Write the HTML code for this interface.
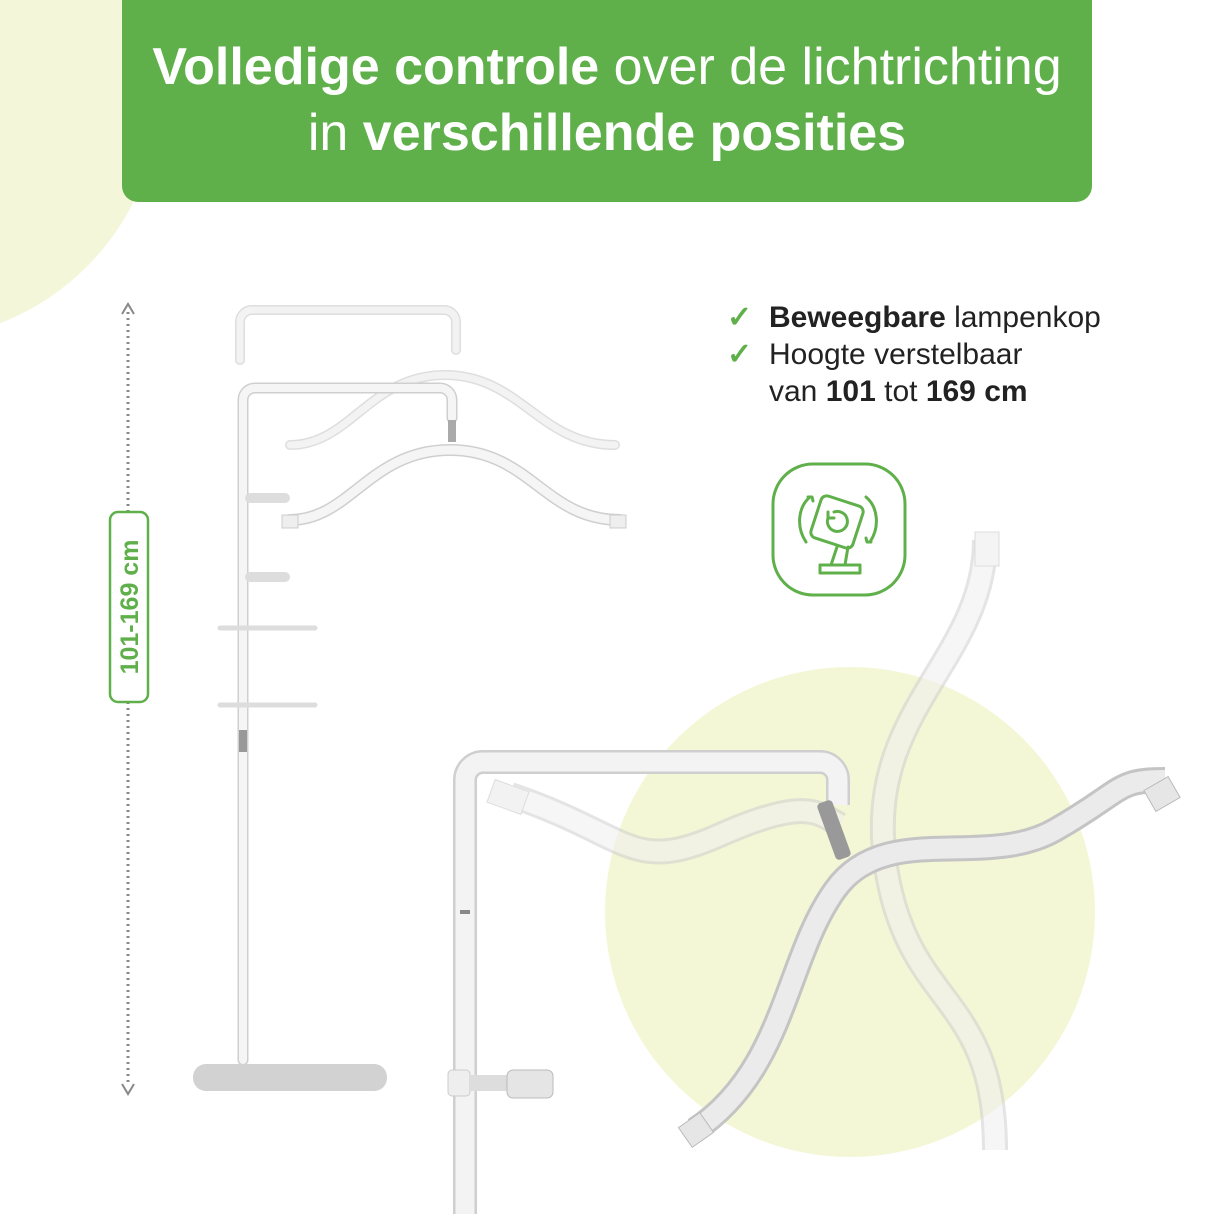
<!DOCTYPE html>
<html><head><meta charset="utf-8"><style>
html,body{margin:0;padding:0;background:#fff}
body{width:1214px;height:1214px;position:relative;overflow:hidden;font-family:"Liberation Sans",sans-serif}
svg{position:absolute;left:0;top:0}
.t{position:absolute;color:#fff;font-size:52px;left:122px;width:970px;text-align:center;white-space:nowrap}
.b{position:absolute;left:727px;font-size:30px;color:#222;line-height:37px}
.chk{color:#5fb04a;font-weight:bold;display:inline-block;width:42px}
</style></head><body>
<svg width="1214" height="1214" viewBox="0 0 1214 1214">
<circle cx="-90" cy="90" r="250" fill="#f4f6da"/>
<circle cx="850" cy="912" r="245" fill="#f4f7d6"/>
<path d="M122 0H1092V186a16 16 0 0 1-16 16H138a16 16 0 0 1-16-16Z" fill="#5fb04a"/>
<line x1="128" y1="312" x2="128" y2="1086" stroke="#888" stroke-width="3" stroke-dasharray="2 4"/>
<path d="M122 314l6-10 6 10M122 1084l6 10 6-10" fill="none" stroke="#888" stroke-width="2"/>
<rect x="110" y="512" width="38" height="190" rx="8" fill="#fff" stroke="#5fb04a" stroke-width="2.5"/>
<text transform="translate(138 607) rotate(-90)" text-anchor="middle" font-family="Liberation Sans" font-size="25" font-weight="bold" fill="#5fb04a">101-169 cm</text>
<rect x="773" y="464" width="132" height="131" rx="40" fill="none" stroke="#5fb04a" stroke-width="3"/>
<g fill="none" stroke="#5fb04a" stroke-width="3" stroke-linecap="round" stroke-linejoin="round">
<rect x="815" y="500" width="44" height="44" rx="6" transform="rotate(18 837 522)"/>
<path d="M834 512a10 10 0 1 1-6 6m0-6v6h6"/>
<path d="M810 497c-12 10-14 30-4 45M808 497l4 0 1 4"/>
<path d="M866 497c12 10 14 30 4 45M871 542l-4 0-1-4"/>
<path d="M837 547l-6 18M848 547l-3 18M820 565h40v8h-40z"/>
</g>
<g fill="none" stroke-linecap="round" stroke-linejoin="round">
<g stroke="#d6d6d6" stroke-width="10" opacity=".8">
<path d="M240 360V322a12 12 0 0 1 12-12H444a12 12 0 0 1 12 12V350"/>
<path d="M290 445c60 0 80-70 155-70s95 70 170 70"/>
</g>
<g stroke="#f7f7f7" stroke-width="7" opacity=".8">
<path d="M240 360V322a12 12 0 0 1 12-12H444a12 12 0 0 1 12 12V350"/>
<path d="M290 445c60 0 80-70 155-70s95 70 170 70"/>
</g>
<path d="M243 1060V400a12 12 0 0 1 12-12H440a12 12 0 0 1 12 12V418" stroke="#cfcfcf" stroke-width="11"/>
<path d="M243 1060V400a12 12 0 0 1 12-12H440a12 12 0 0 1 12 12V418" stroke="#f5f5f5" stroke-width="8"/>
<path d="M290 520c60 0 80-70 160-70s95 70 170 70" stroke="#cfcfcf" stroke-width="12"/>
<path d="M290 520c60 0 80-70 160-70s95 70 170 70" stroke="#f5f5f5" stroke-width="9"/>
<path d="M220 628h95M220 705h95" stroke="#ddd" stroke-width="5"/>
<path d="M250 498h35M250 577h35" stroke="#ddd" stroke-width="10"/>
</g>
<rect x="239" y="730" width="8" height="22" fill="#999"/>
<rect x="282" y="515" width="16" height="13" fill="#eee" stroke="#ccc"/>
<rect x="610" y="515" width="16" height="13" fill="#eee" stroke="#ccc"/>
<rect x="448" y="420" width="8" height="22" fill="#aaa"/>
<rect x="193" y="1064" width="194" height="27" rx="13" fill="#d2d2d2"/>
<g fill="none" stroke-linecap="butt" opacity=".55">
<path d="M510 795c120 40 120 80 210 40s100-20 120-10" stroke="#cfcfcf" stroke-width="26"/>
<path d="M510 795c120 40 120 80 210 40s100-20 120-10" stroke="#efefef" stroke-width="20"/>
<path d="M985 540c0 120-120 170-100 320s110 130 110 290" stroke="#cfcfcf" stroke-width="26"/>
<path d="M985 540c0 120-120 170-100 320s110 130 110 290" stroke="#efefef" stroke-width="20"/>
</g>
<g fill="none">
<path d="M465 1214V780a18 18 0 0 1 18-18H820a18 18 0 0 1 18 18V805" stroke="#cfcfcf" stroke-width="24"/>
<path d="M465 1214V780a18 18 0 0 1 18-18H820a18 18 0 0 1 18 18V805" stroke="#f3f3f3" stroke-width="19"/>
<path d="M695 1130c90-60 90-170 140-240s150-20 220-60 60-50 110-50" stroke="#c4c4c4" stroke-width="26"/>
<path d="M695 1130c90-60 90-170 140-240s150-20 220-60 60-50 110-50" stroke="#ebebeb" stroke-width="20"/>
</g>
<rect x="826" y="800" width="16" height="60" rx="4" fill="#999" transform="rotate(-20 834 830)"/>
<rect x="460" y="910" width="10" height="4" fill="#888"/>
<rect x="448" y="1070" width="22" height="26" rx="4" fill="#eee" stroke="#ccc"/>
<path d="M470 1075h40v16h-40z" fill="#ddd"/>
<rect x="507" y="1070" width="46" height="28" rx="6" fill="#e5e5e5" stroke="#bbb"/>
<rect x="683" y="1118" width="26" height="24" fill="#e6e6e6" stroke="#bbb" transform="rotate(-35 696 1130)"/>
<rect x="1148" y="782" width="28" height="24" fill="#e6e6e6" stroke="#bbb" transform="rotate(-30 1162 794)"/>
<rect x="975" y="532" width="24" height="34" fill="#f4f4f4" stroke="#ddd"/>
<rect x="490" y="785" width="36" height="24" fill="#f2f2f2" stroke="#ddd" transform="rotate(20 508 797)"/>
</svg>
<div class="t" style="top:37px"><b>Volledige controle</b> over de lichtrichting</div>
<div class="t" style="top:103px">in <b>verschillende posities</b></div>
<div class="b" style="top:299px"><span class="chk">✓</span><b>Beweegbare</b> lampenkop</div>
<div class="b" style="top:336px"><span class="chk">✓</span>Hoogte verstelbaar</div>
<div class="b" style="top:373px;left:769px">van <b>101</b> tot <b>169 cm</b></div>
</body></html>
